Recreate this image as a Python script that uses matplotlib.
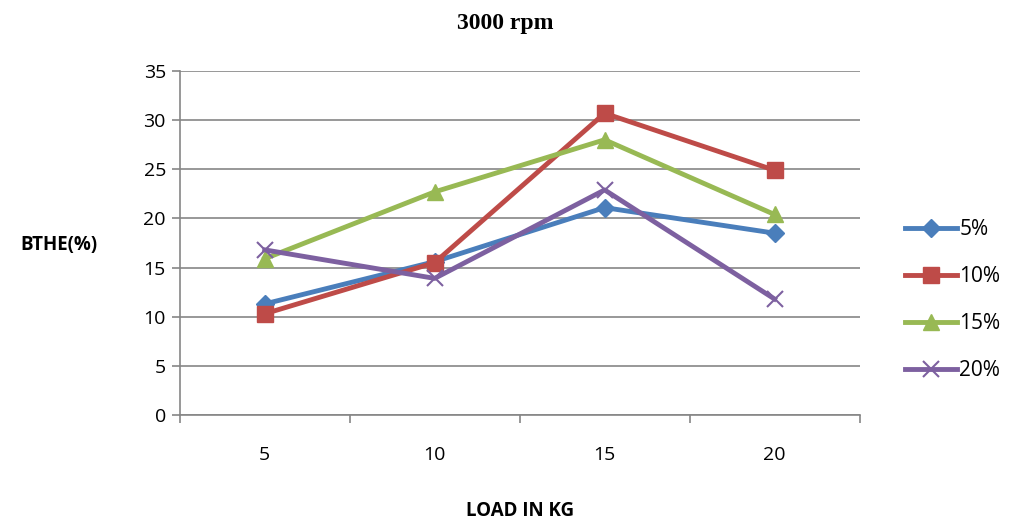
import matplotlib
matplotlib.use("Agg")
import matplotlib.pyplot as plt
from matplotlib.ticker import FixedLocator

loads = ["5", "10", "15", "20"]
bthe_5 = [11.3, 15.6, 21.1, 18.5]
bthe_10 = [10.3, 15.5, 30.7, 24.9]
bthe_15 = [15.9, 22.7, 28.0, 20.4]
bthe_20 = [16.8, 13.9, 22.9, 11.8]
series_names = ["5%", "10%", "15%", "20%"]

plt.rcParams['font.family'] = ['Open Sans', 'DejaVu Sans']

fig = plt.figure(figsize=(10.1, 5.22), dpi=100)
ax = fig.add_axes([0.178, 0.205, 0.673, 0.659])

x = list(range(1, len(loads) + 1))
styles = [
    (bthe_5, "#4A7EBB", "D", 9),
    (bthe_10, "#BE4B48", "s", 11),
    (bthe_15, "#98B954", "^", 11),
    (bthe_20, "#7D60A0", "x", 12),
]
for (vals, col, mk, ms), name in zip(styles, series_names):
    ax.plot(x, vals, color=col, lw=3.5, marker=mk, ms=ms, mew=1.5 if mk == "x" else 1,
            mec=col, mfc=col, label=name)

ax.set_xlim(0.5, 4.5)
ax.set_ylim(0, 35)
ax.set_yticks(range(0, 36, 5))
ax.set_xticks(x)
ax.set_xticklabels(loads)
ax.xaxis.set_minor_locator(FixedLocator([0.5, 1.5, 2.5, 3.5, 4.5]))
ax.tick_params(axis="x", which="major", length=0, pad=22, labelsize=14)
ax.tick_params(axis="x", which="minor", length=6, color="#868686", width=1.2)
ax.tick_params(axis="y", length=6, color="#868686", width=1.2, labelsize=14, pad=4)
ax.grid(axis="y", color="#868686", lw=1.2)
ax.set_axisbelow(True)
for s in ["top", "right"]:
    ax.spines[s].set_visible(False)
for s in ["left", "bottom"]:
    ax.spines[s].set_color("#868686")
    ax.spines[s].set_linewidth(1.2)

fig.text(0.5, 0.955, "3000 rpm", ha="center", va="center", fontsize=17,
         fontweight="bold", family="Liberation Serif")
fig.text(0.058, 0.53, "BTHE(%)", ha="center", va="center", fontsize=13.5, fontweight="bold")
fig.text(0.515, 0.022, "LOAD IN KG", ha="center", va="center", fontsize=13.5, fontweight="bold")

leg = fig.legend(loc="center left", bbox_to_anchor=(0.888, 0.425), frameon=False,
                 fontsize=15, handlelength=2.5, labelspacing=1.25, handletextpad=0.1,
                 borderaxespad=0)

fig.savefig("out.png", dpi=100)
